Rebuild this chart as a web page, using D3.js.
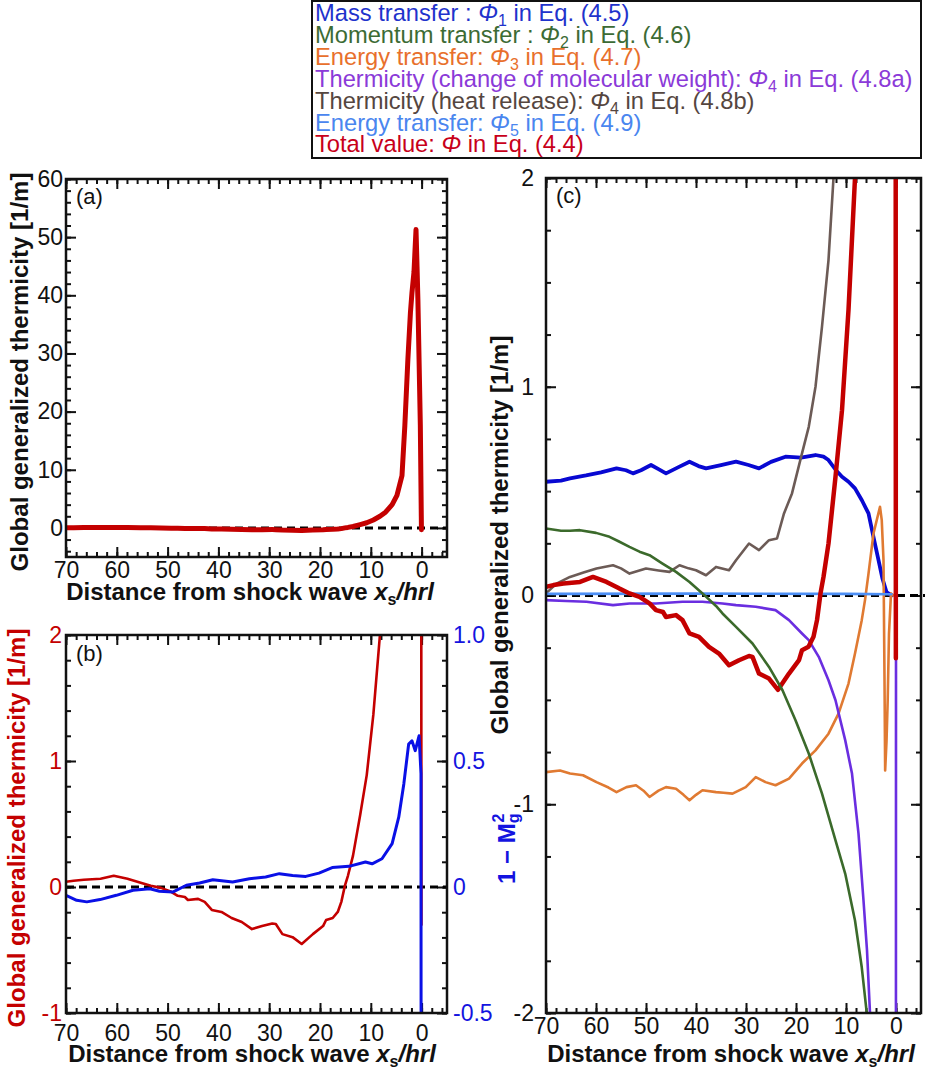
<!DOCTYPE html>
<html>
<head>
<meta charset="utf-8">
<script src="https://cdn.jsdelivr.net/npm/d3@7"></script>
<style>
  body { margin: 0; background: #fff; }
  svg { font-family: "Liberation Sans", Arial, Helvetica, sans-serif; }
</style>
</head>
<body>
<svg id="chart" width="925" height="1071"></svg>
<script>
// ---- data: [x_s/hrl, value] ----
const phiTotal = [[70,0.041],[68.5,0.05],[66.5,0.057],[63.2,0.065],[60.6,0.089],[57.9,0.065],[55.3,0.033],[53.3,0.01],[51.3,-0.007],[49.3,-0.038],[48.0,-0.07],[46.6,-0.079],[46.0,-0.103],[44.0,-0.094],[42.7,-0.118],[41.3,-0.182],[39.4,-0.198],[37.4,-0.246],[35.4,-0.278],[33.4,-0.334],[31.4,-0.31],[29.4,-0.29],[28.7,-0.294],[27.4,-0.374],[25.4,-0.398],[23.6,-0.452],[21.4,-0.374],[19.4,-0.31],[18.8,-0.262],[17.5,-0.246],[16.5,-0.198],[15.8,-0.118],[15.1,0.01],[14.5,0.089],[13.5,0.249],[12.1,0.569],[10.8,0.888],[9.5,1.368],[8.2,2.0],[7.1,2.7],[5.8,4.0],[4.85,5.6],[3.86,9.0],[3.3,17.6],[2.7,29],[2.2,37],[1.9,40.4],[1.5,44],[1.1,51.3],[0.9,45],[0.73,39.3],[0.25,17.6],[0.06,2.0],[0.03,-0.3]];
const phi1 = [[70,0.545],[67,0.55],[65.2,0.561],[62,0.575],[59,0.59],[55.9,0.609],[54,0.6],[52.6,0.585],[51,0.6],[49.0,0.625],[47.5,0.605],[46.0,0.585],[43.5,0.615],[41.3,0.641],[39.5,0.62],[38.0,0.609],[35,0.625],[32.0,0.641],[29.5,0.625],[27.4,0.609],[25,0.64],[22.1,0.665],[19,0.66],[16.1,0.673],[14.5,0.665],[13.5,0.649],[12,0.6],[10.8,0.569],[9.5,0.545],[8.2,0.513],[6.8,0.455],[5.5,0.393],[4.5,0.28],[3.5,0.169],[2.7,0.08],[1.9,0.017],[0.9,0.0]];
const phi2 = [[70,0.321],[67,0.31],[65.2,0.31],[63.2,0.313],[60,0.3],[57.3,0.281],[55.5,0.26],[53.3,0.233],[51.3,0.21],[49.3,0.193],[46.7,0.153],[44.0,0.113],[41.3,0.065],[38.7,0.01],[36.0,-0.05],[34.7,-0.086],[32.0,-0.15],[28.7,-0.23],[25.4,-0.342],[22.7,-0.454],[20.1,-0.598],[17.45,-0.757],[14.8,-0.949],[12.1,-1.173],[10.15,-1.333],[8.2,-1.557],[6.85,-1.781],[5.85,-2.0],[5.3,-2.3]];
const phi3 = [[70,-0.846],[67.2,-0.838],[65.2,-0.853],[62.6,-0.861],[59.9,-0.894],[57.5,-0.92],[55.9,-0.942],[53.9,-0.918],[52,-0.909],[50.5,-0.935],[49.3,-0.965],[47.5,-0.935],[46.0,-0.918],[44.0,-0.926],[42.5,-0.955],[41.3,-0.981],[40,-0.955],[38.7,-0.933],[36.0,-0.942],[34.5,-0.945],[32.7,-0.949],[30.05,-0.918],[28.05,-0.87],[26.1,-0.894],[24.1,-0.909],[21.4,-0.877],[18.8,-0.805],[16.1,-0.742],[13.5,-0.662],[11.5,-0.566],[9.5,-0.422],[8.2,-0.278],[6.85,-0.118],[6.2,-0.022],[5.5,0.105],[4.5,0.297],[3.2,0.425],[2.85,0.361],[2.5,0.169],[2.3,-0.4],[2.17,-0.838],[1.9,-0.7],[1.66,-0.502],[1.4,-0.182],[1.0,0.01],[0.5,0.0],[0,0]];
const phi4a = [[70,-0.022],[66,-0.026],[61.9,-0.03],[56.6,-0.046],[53.3,-0.038],[48.0,-0.038],[42.7,-0.03],[38.7,-0.03],[34.7,-0.038],[32.0,-0.046],[28.05,-0.054],[24.1,-0.07],[21.4,-0.118],[18.8,-0.182],[17.45,-0.214],[15.45,-0.294],[13.5,-0.406],[12.1,-0.502],[10.15,-0.694],[8.8,-0.853],[7.5,-1.141],[6.5,-1.461],[5.8,-1.7],[5.2,-2.0],[4.5,-2.6],[2.0,-5],[0.05,-8],[0.0,-0.3]];
const phi4b = [[70,0.01],[67.9,0.057],[65.2,0.089],[62.5,0.11],[59.9,0.129],[56.6,0.145],[55,0.13],[53.3,0.105],[50.0,0.129],[47.5,0.12],[45.3,0.113],[43.3,0.145],[41.5,0.13],[40.0,0.121],[38.0,0.097],[36.0,0.137],[33.4,0.121],[32.0,0.169],[29.4,0.249],[27.4,0.217],[25.4,0.265],[23.8,0.273],[22.4,0.393],[20.8,0.489],[18.8,0.681],[17.45,0.808],[16.1,1.0],[14.8,1.288],[13.5,1.607],[12.5,2.0],[11.8,2.4]];
const phi5 = [[70,0.008],[40,0.009],[10,0.008],[0.9,0.006]];
const machTerm = [[70,-0.033],[67.9,-0.053],[65.9,-0.059],[63.3,-0.05],[60.1,-0.033],[56.8,-0.013],[53.5,-0.007],[51.6,-0.017],[49.0,-0.02],[46.3,0.007],[43.7,0.016],[41.1,0.029],[37.2,0.02],[33.9,0.033],[30.7,0.04],[28.0,0.053],[25.4,0.046],[22.8,0.042],[20.2,0.055],[17.6,0.077],[14.3,0.082],[11.05,0.099],[9.75,0.092],[7.8,0.112],[5.8,0.172],[4.5,0.277],[3.5,0.409],[2.55,0.567],[1.9,0.58],[1.25,0.541],[0.5,0.6],[0.12,0.45],[0.1,-0.6]];

// legend: [label, subscript, equation]
const legendText = [
  ["Mass transfer : ", "1", " in Eq. (4.5)"],
  ["Momentum transfer : ", "2", " in Eq. (4.6)"],
  ["Energy transfer: ", "3", " in Eq. (4.7)"],
  ["Thermicity (change of molecular weight): ", "4", " in Eq. (4.8a)"],
  ["Thermicity (heat release): ", "4", " in Eq. (4.8b)"],
  ["Energy transfer: ", "5", " in Eq. (4.9)"],
  ["Total value: ", "", " in Eq. (4.4)"]
];
const legendColors = ["#1f33cc", "#3c6b34", "#e8702c", "#8b3ad8", "#55463f", "#4a86ef", "#c8001a"];

const xMajor = [70, 60, 50, 40, 30, 20, 10, 0];
const xMinor = d3.range(-4, 71, 2);

const RED = "#c40000";
const svg = d3.select("#chart");
const FS = 23;

// ---- helpers ----
function makePanel(box, yDomain, id) {
  const w = box.right - box.left, h = box.bottom - box.top;
  const g = svg.append("g").attr("transform", `translate(${box.left},${box.top})`);
  const x = d3.scaleLinear().domain([70, -5]).range([0, w]);
  const y = d3.scaleLinear().domain(yDomain).range([h, 0]);
  g.append("clipPath").attr("id", id).append("rect").attr("width", w).attr("height", h);
  return { g, x, y, w, h, id };
}

function styleAxis(sel, color) {
  sel.select(".domain").remove();
  sel.selectAll(".tick line").attr("stroke", "#111").attr("stroke-width", 2);
  sel.selectAll("text").attr("font-size", FS).attr("fill", color || "#111")
    .attr("font-family", "'Liberation Sans', Arial, sans-serif");
}

function xAxes(p, pad) {
  p.g.append("g").attr("transform", `translate(0,${p.h})`)
    .call(d3.axisBottom(p.x).tickValues(xMinor).tickSize(-5).tickFormat(""))
    .call(styleAxis);
  p.g.append("g").attr("transform", `translate(0,${p.h})`)
    .call(d3.axisBottom(p.x).tickValues(xMajor).tickSize(-10).tickPadding(pad).tickFormat(d => String(d)))
    .call(styleAxis);
  p.g.append("g").call(d3.axisTop(p.x).tickValues(xMinor).tickSize(-5).tickFormat("")).call(styleAxis);
  p.g.append("g").call(d3.axisTop(p.x).tickValues(xMajor).tickSize(-10).tickFormat("")).call(styleAxis);
}

function yAxes(p, major, minor, pad, color, right) {
  p.g.append("g").call(d3.axisLeft(p.y).tickValues(minor).tickSize(-5).tickFormat("")).call(styleAxis);
  p.g.append("g").call(d3.axisLeft(p.y).tickValues(major).tickSize(-10).tickPadding(pad).tickFormat(d => String(d)))
    .call(s => styleAxis(s, color));
  if (right) {
    p.g.append("g").attr("transform", `translate(${p.w},0)`)
      .call(d3.axisRight(p.y).tickValues(minor).tickSize(-5).tickFormat("")).call(styleAxis);
    p.g.append("g").attr("transform", `translate(${p.w},0)`)
      .call(d3.axisRight(p.y).tickValues(major).tickSize(-10).tickFormat("")).call(styleAxis);
  }
}

function frame(p) {
  p.g.append("rect").attr("width", p.w).attr("height", p.h)
    .attr("fill", "none").attr("stroke", "#111").attr("stroke-width", 2.5);
}

function zeroLine(p, xEnd) {
  p.g.append("line")
    .attr("x1", p.x(70)).attr("x2", p.x(xEnd))
    .attr("y1", p.y(0)).attr("y2", p.y(0))
    .attr("stroke", "#000").attr("stroke-width", 3).attr("stroke-dasharray", "8,5");
}

function curve(p, data, color, width, yScale) {
  const ys = yScale || p.y;
  const line = d3.line().x(d => p.x(d[0])).y(d => ys(d[1]));
  p.g.append("path").datum(data)
    .attr("clip-path", `url(#${p.id})`)
    .attr("d", line)
    .attr("fill", "none").attr("stroke", color)
    .attr("stroke-width", width).attr("stroke-linejoin", "round").attr("stroke-linecap", "round");
}

function panelLabel(p, txt, yb) {
  p.g.append("text").attr("x", 10).attr("y", yb).attr("font-size", 22).attr("fill", "#111").text(txt);
}

function xTitle(cx, yb) {
  const t = svg.append("text").attr("x", cx).attr("y", yb).attr("text-anchor", "middle")
    .attr("font-size", 24).attr("font-weight", "bold").attr("fill", "#111");
  t.append("tspan").text("Distance from shock wave ");
  t.append("tspan").attr("font-style", "italic").text("x");
  t.append("tspan").attr("font-size", 16).attr("dy", 5).text("s");
  t.append("tspan").attr("dy", -5).attr("font-style", "italic").text("/hrl");
}

function yTitle(x, y, color) {
  svg.append("text").attr("transform", `translate(${x},${y}) rotate(-90)`)
    .attr("text-anchor", "middle").attr("font-size", 24).attr("font-weight", "bold")
    .attr("fill", color).text("Global generalized thermicity [1/m]");
}

// ---- legend ----
svg.append("rect").attr("x", 312).attr("y", 1).attr("width", 609).attr("height", 157)
  .attr("fill", "#fff").attr("stroke", "#111").attr("stroke-width", 2);
legendText.forEach((row, i) => {
  const t = svg.append("text").attr("x", 315).attr("y", 21 + i * 21.9)
    .attr("font-size", 23.7).attr("fill", legendColors[i]);
  t.append("tspan").text(row[0]);
  t.append("tspan").attr("font-style", "italic").text("\u03A6");
  if (row[1]) {
    t.append("tspan").attr("font-size", 16).attr("dy", 5).text(row[1]);
    t.append("tspan").attr("dy", -5).text(row[2]);
  } else {
    t.append("tspan").text(row[2]);
  }
});

// ---- panel (a) ----
const pa = makePanel({ left: 66, right: 447, top: 179, bottom: 557 }, [-5, 60], "clipA");
xAxes(pa, 5);
yAxes(pa, d3.range(0, 61, 10), d3.range(-4, 61, 2), 3, "#111", true);
zeroLine(pa, -5);
curve(pa, phiTotal, RED, 5);
frame(pa);
panelLabel(pa, "(a)", 25);
yTitle(28, 372, "#111");
xTitle(250, 600);

// ---- panel (b) ----
const pb = makePanel({ left: 66, right: 447, top: 635, bottom: 1013 }, [-1, 2], "clipB");
const yR = d3.scaleLinear().domain([-0.5, 1.0]).range([pb.h, 0]);
xAxes(pb, 12);
yAxes(pb, [-1, 0, 1, 2], d3.range(-1, 2.01, 0.2), 4, RED, false);
pb.g.append("g").attr("transform", `translate(${pb.w},0)`)
  .call(d3.axisRight(yR).tickValues(d3.range(-0.5, 1.01, 0.1)).tickSize(-5).tickFormat(""))
  .call(styleAxis);
pb.g.append("g").attr("transform", `translate(${pb.w},0)`)
  .call(d3.axisRight(yR).tickValues([-0.5, 0, 0.5, 1.0]).tickSize(-10).tickPadding(6)
    .tickFormat(d => d === 0 ? "0" : d3.format(".1f")(d).replace("\u2212", "-")))
  .call(s => styleAxis(s, "#1414e0"));
zeroLine(pb, -5);
curve(pb, phiTotal, RED, 2.6);
curve(pb, machTerm, "#0a10e6", 3, yR);
frame(pb);
panelLabel(pb, "(b)", 26);
yTitle(25, 828, RED);
{
  const t = svg.append("text").attr("transform", "translate(515,884) rotate(-90)")
    .attr("text-anchor", "start").attr("font-size", 24).attr("font-weight", "bold").attr("fill", "#1414e0");
  t.append("tspan").text("1 \u2212 M");
  t.append("tspan").attr("font-size", 16).attr("dy", 4).text("g");
  t.append("tspan").attr("font-size", 16).attr("dx", -9).attr("dy", -15).text("2");
}
xTitle(252, 1062);

// ---- panel (c) ----
const pc = makePanel({ left: 546, right: 921, top: 178, bottom: 1013 }, [-2, 2], "clipC");
xAxes(pc, 5);
yAxes(pc, [-2, -1, 0, 1, 2], d3.range(-2, 2.01, 0.25), 12, "#111", true);
zeroLine(pc, -6);
curve(pc, phi1, "#0808d2", 3.8);
curve(pc, phi3, "#e07a32", 2.6);
curve(pc, phi4a, "#6a2ee0", 2.6);
curve(pc, phi4b, "#6c5b56", 2.6);
curve(pc, phi5, "#4d8ff5", 2.6);
curve(pc, phiTotal, RED, 4.5);
curve(pc, phi2, "#3b6a2b", 2.6);
frame(pc);
panelLabel(pc, "(c)", 25);
yTitle(508, 535, "#111");
xTitle(731, 1062);
</script>
</body>
</html>
